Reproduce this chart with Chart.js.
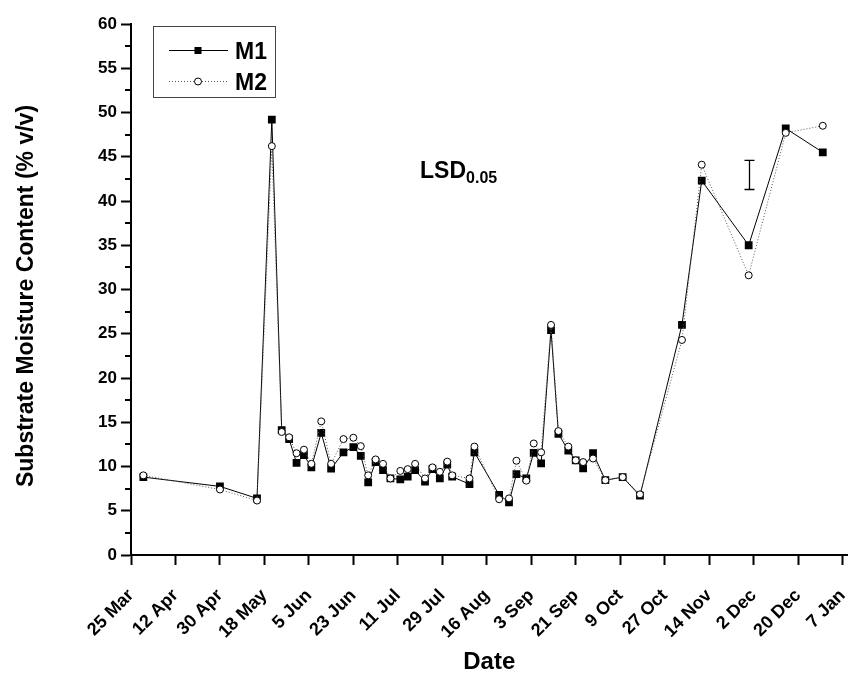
<!DOCTYPE html>
<html lang="en">
  <head>
    <meta charset="UTF-8" />
    <title>Substrate Moisture Content</title>
    <script src="https://cdn.jsdelivr.net/npm/chart.js"></script>
    <style>
      body { margin: 0; background: #fff; }
      canvas { display: block; }
    </style>
  </head>
  <body>
    <canvas id="myCanvas" width="853" height="674"></canvas>
    <script>
      // sampling dates, in days counted from 25 Mar
      const sampleDays = [5, 36, 51, 57, 61, 64, 67, 70, 73, 77, 81, 86, 90, 93, 96, 99, 102, 105, 109, 112,
        115, 119, 122, 125, 128, 130, 137, 139, 149, 153, 156, 160, 163, 166, 170, 173, 177, 180, 183, 187,
        192, 199, 206, 223, 231, 250, 265, 280];

      // substrate moisture (% v/v)
      const m1Values = [8.8, 7.75, 6.4, 49.2, 14.1, 13.1, 10.4, 11.3, 9.9, 13.8, 9.75, 11.6, 12.2, 11.2, 8.2, 10.5,
        9.6, 8.65, 8.55, 8.85, 9.6, 8.3, 9.7, 8.65, 10.2, 8.85, 8.0, 11.6, 6.8, 5.95, 9.15, 8.65, 11.55, 10.35,
        25.4, 13.7, 11.8, 10.7, 9.8, 11.5, 8.45, 8.8, 6.7, 26.0, 42.3, 35.0, 48.2, 45.5];
      const m2Values = [9.0, 7.4, 6.15, 46.2, 13.9, 13.3, 11.5, 11.9, 10.3, 15.1, 10.3, 13.1, 13.25, 12.3, 9.0, 10.8,
        10.3, 8.65, 9.5, 9.7, 10.3, 8.65, 9.9, 9.4, 10.55, 9.0, 8.65, 12.25, 6.3, 6.4, 10.65, 8.4, 12.6, 11.6,
        26.0, 14.0, 12.25, 10.7, 10.5, 10.9, 8.45, 8.8, 6.85, 24.3, 44.1, 31.6, 47.7, 48.5];

      const tickDays = [0, 18, 36, 54, 72, 90, 108, 126, 144, 162, 180, 198, 216, 234, 252, 270, 288];
      const tickLabels = ["25 Mar", "12 Apr", "30 Apr", "18 May", "5 Jun", "23 Jun", "11 Jul", "29 Jul", "16 Aug",
        "3 Sep", "21 Sep", "9 Oct", "27 Oct", "14 Nov", "2 Dec", "20 Dec", "7 Jan"];

      // least significant difference bar
      const lsdDay = 250;
      const lsdRange = [41.3, 44.6];

      const fonte = "'Liberation Sans', Arial, sans-serif";
      const tituloY = "Substrate Moisture Content (% v/v)";

      function pontos(valores) {
        return sampleDays.map(function (d, i) { return { x: d, y: valores[i] }; });
      }

      // minor ticks, y title, LSD bar and the boxed legend
      const extras = {
        id: "extras",
        afterDraw(chart) {
          const ctx = chart.ctx;
          const xs = chart.scales.x;
          const ys = chart.scales.y;
          const area = chart.chartArea;
          ctx.save();

          ctx.strokeStyle = "#000";
          ctx.lineWidth = 2;
          for (let v = 2.5; v < 60; v += 5) {
            const py = Math.round(ys.getPixelForValue(v));
            ctx.beginPath();
            ctx.moveTo(area.left - 6, py);
            ctx.lineTo(area.left, py);
            ctx.stroke();
          }

          // y axis title
          ctx.fillStyle = "#000";
          ctx.save();
          ctx.translate(27, 296);
          ctx.rotate(-Math.PI / 2);
          ctx.textAlign = "center";
          ctx.textBaseline = "middle";
          ctx.font = "bold 23px " + fonte;
          ctx.fillText(tituloY, 0, 0);
          ctx.restore();

          // LSD bar
          const bx = Math.round(xs.getPixelForValue(lsdDay)) + 0.5;
          const bTop = ys.getPixelForValue(lsdRange[1]);
          const bBot = ys.getPixelForValue(lsdRange[0]);
          ctx.lineWidth = 1.3;
          ctx.beginPath();
          ctx.moveTo(bx, bTop); ctx.lineTo(bx, bBot);
          ctx.moveTo(bx - 5, bTop); ctx.lineTo(bx + 5, bTop);
          ctx.moveTo(bx - 5, bBot); ctx.lineTo(bx + 5, bBot);
          ctx.stroke();

          // LSD label
          ctx.textBaseline = "alphabetic";
          ctx.textAlign = "left";
          const lx = xs.getPixelForValue(117);
          const ly = ys.getPixelForValue(43.5) + 8;
          ctx.font = "bold 23px " + fonte;
          ctx.fillText("LSD", lx, ly);
          const w = ctx.measureText("LSD").width;
          ctx.font = "bold 16px " + fonte;
          ctx.fillText("0.05", lx + w, ly + 5);

          // legend
          ctx.strokeStyle = "#444";
          ctx.lineWidth = 1;
          ctx.strokeRect(153.5, 26.5, 122, 71);
          ctx.font = "bold 23px " + fonte;

          ctx.strokeStyle = "#000";
          ctx.beginPath();
          ctx.moveTo(169, 50.5); ctx.lineTo(228, 50.5);
          ctx.stroke();
          ctx.fillRect(194.5, 47, 7, 7);
          ctx.fillText(chart.data.datasets[0].label, 235, 59);

          ctx.setLineDash([1, 2]);
          ctx.strokeStyle = "#555";
          ctx.beginPath();
          ctx.moveTo(169, 81.5); ctx.lineTo(228, 81.5);
          ctx.stroke();
          ctx.setLineDash([]);
          ctx.strokeStyle = "#000";
          ctx.fillStyle = "#fff";
          ctx.beginPath();
          ctx.arc(198, 81.5, 3.5, 0, Math.PI * 2);
          ctx.fill();
          ctx.stroke();
          ctx.fillStyle = "#000";
          ctx.fillText(chart.data.datasets[1].label, 235, 90);

          ctx.restore();
        }
      };

      const dados = {
        datasets: [
          {
            label: "M1",
            data: pontos(m1Values),
            borderColor: "#000",
            borderWidth: 1,
            backgroundColor: "#000",
            pointStyle: "rect",
            pointRadius: 5.5,
            pointBorderWidth: 0,
            pointBackgroundColor: "#000",
            tension: 0,
            order: 1,
          },
          {
            label: "M2",
            data: pontos(m2Values),
            borderColor: "#555",
            borderWidth: 1,
            borderDash: [1, 2],
            pointStyle: "circle",
            pointRadius: 3.5,
            pointBorderWidth: 1,
            pointBorderColor: "#000",
            pointBackgroundColor: "#fff",
            tension: 0,
            order: 0,
          },
        ],
      };

      const config = {
        type: "line",
        data: dados,
        options: {
          responsive: false,
          animation: false,
          layout: { padding: { top: 24, right: 1, left: 0, bottom: 0 } },
          plugins: {
            legend: { display: false },
            tooltip: { enabled: false },
          },
          scales: {
            x: {
              type: "linear",
              min: 0,
              max: 290,
              border: { color: "#000", width: 2 },
              grid: { drawOnChartArea: false, tickLength: 10, tickWidth: 2, tickColor: "#000" },
              afterBuildTicks: function (scale) {
                scale.ticks = tickDays.map(function (d) { return { value: d }; });
              },
              afterFit: function (scale) {
                scale.height = 119;
                scale.paddingRight = 1;
              },
              ticks: {
                autoSkip: false,
                maxRotation: 45,
                minRotation: 45,
                padding: 20,
                color: "#000",
                font: { family: fonte, size: 18, weight: "bold" },
                callback: function (value, index) { return tickLabels[index]; },
              },
              title: {
                display: true,
                text: "Date",
                color: "#000",
                font: { family: fonte, size: 24, weight: "bold", lineHeight: 1 },
                padding: { top: 0, bottom: 0 },
              },
            },
            y: {
              min: 0,
              max: 60,
              border: { color: "#000", width: 2 },
              grid: { drawOnChartArea: false, tickLength: 10, tickWidth: 2, tickColor: "#000" },
              afterFit: function (scale) {
                scale.width = 131;
              },
              ticks: {
                stepSize: 5,
                padding: 4,
                color: "#000",
                font: { family: fonte, size: 17, weight: "bold" },
              },
            },
          },
        },
        plugins: [extras],
      };

      const myChart = new Chart(document.getElementById("myCanvas"), config);
    </script>
  </body>
</html>
